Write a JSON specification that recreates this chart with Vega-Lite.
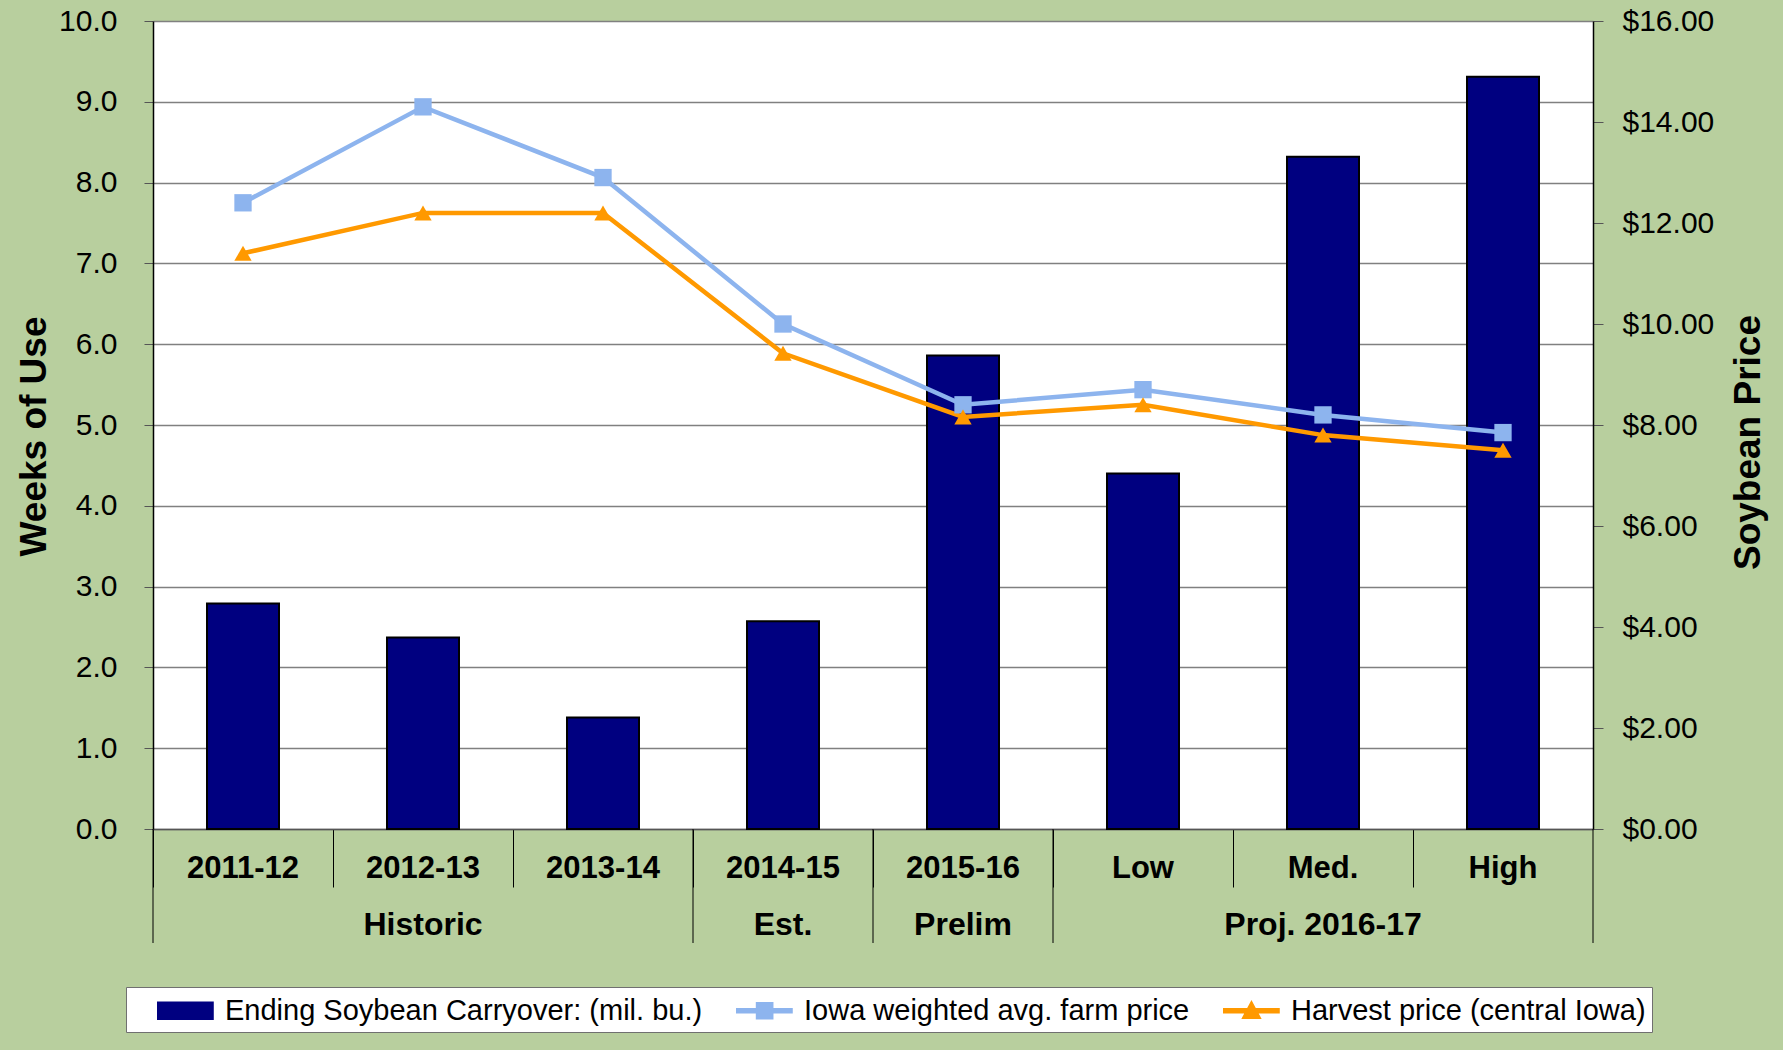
{
  "$schema": "https://vega.github.io/schema/vega-lite/v6.json",
  "width": 1440,
  "height": 808,
  "autosize": {"type": "none"},
  "padding": {"left": 153, "top": 21, "right": 190, "bottom": 221},
  "background": "#b8cf9e",
  "config": {
    "font": "Liberation Sans",
    "view": {"fill": "white", "stroke": null}
  },
  "datasets": {
    "bars": [
      {"cat": "2011-12", "weeks": 2.79, "series": "Ending Soybean Carryover: (mil. bu.)"},
      {"cat": "2012-13", "weeks": 2.37, "series": "Ending Soybean Carryover: (mil. bu.)"},
      {"cat": "2013-14", "weeks": 1.38, "series": "Ending Soybean Carryover: (mil. bu.)"},
      {"cat": "2014-15", "weeks": 2.57, "series": "Ending Soybean Carryover: (mil. bu.)"},
      {"cat": "2015-16", "weeks": 5.86, "series": "Ending Soybean Carryover: (mil. bu.)"},
      {"cat": "Low", "weeks": 4.40, "series": "Ending Soybean Carryover: (mil. bu.)"},
      {"cat": "Med.", "weeks": 8.32, "series": "Ending Soybean Carryover: (mil. bu.)"},
      {"cat": "High", "weeks": 9.31, "series": "Ending Soybean Carryover: (mil. bu.)"}
    ],
    "prices": [
      {"cat": "2011-12", "series": "Iowa weighted avg. farm price", "price": 12.40},
      {"cat": "2012-13", "series": "Iowa weighted avg. farm price", "price": 14.30},
      {"cat": "2013-14", "series": "Iowa weighted avg. farm price", "price": 12.90},
      {"cat": "2014-15", "series": "Iowa weighted avg. farm price", "price": 10.00},
      {"cat": "2015-16", "series": "Iowa weighted avg. farm price", "price": 8.40},
      {"cat": "Low", "series": "Iowa weighted avg. farm price", "price": 8.70},
      {"cat": "Med.", "series": "Iowa weighted avg. farm price", "price": 8.20},
      {"cat": "High", "series": "Iowa weighted avg. farm price", "price": 7.85},
      {"cat": "2011-12", "series": "Harvest price (central Iowa)", "price": 11.40},
      {"cat": "2012-13", "series": "Harvest price (central Iowa)", "price": 12.20},
      {"cat": "2013-14", "series": "Harvest price (central Iowa)", "price": 12.20},
      {"cat": "2014-15", "series": "Harvest price (central Iowa)", "price": 9.42},
      {"cat": "2015-16", "series": "Harvest price (central Iowa)", "price": 8.16},
      {"cat": "Low", "series": "Harvest price (central Iowa)", "price": 8.40},
      {"cat": "Med.", "series": "Harvest price (central Iowa)", "price": 7.80},
      {"cat": "High", "series": "Harvest price (central Iowa)", "price": 7.50}
    ],
    "groups": [
      {"cat": "2012-13", "group": "Historic"},
      {"cat": "2014-15", "group": "Est."},
      {"cat": "2015-16", "group": "Prelim"},
      {"cat": "Med.", "group": "Proj. 2016-17"}
    ],
    "edges": [
      {"cat": "2011-12", "side": "start"},
      {"cat": "2014-15", "side": "start"},
      {"cat": "2015-16", "side": "start"},
      {"cat": "Low", "side": "start"},
      {"cat": "High", "side": "end"}
    ]
  },
  "encoding": {
    "x": {
      "field": "cat",
      "type": "nominal",
      "sort": ["2011-12", "2012-13", "2013-14", "2014-15", "2015-16", "Low", "Med.", "High"],
      "scale": {"paddingInner": 0.6, "paddingOuter": 0.3},
      "axis": {
        "title": null,
        "labelAngle": 0,
        "labelFont": "Liberation Sans",
        "labelFontSize": 31,
        "labelFontWeight": "bold",
        "labelColor": "black",
        "labelPadding": -19,
        "labelBaseline": "middle",
        "labelOverlap": false,
        "bandPosition": -0.75,
        "tickSize": 58,
        "tickColor": "black",
        "tickWidth": 1,
        "domainColor": "#555555",
        "domainWidth": 1.5,
        "grid": false
      }
    }
  },
  "layer": [
    {
      "layer": [
        {
          "data": {"name": "bars"},
          "mark": {"type": "bar", "stroke": "black", "strokeWidth": 2},
          "encoding": {
            "y": {
              "field": "weeks",
              "type": "quantitative",
              "scale": {"domain": [0, 10], "nice": false},
              "axis": {
                "title": "Weeks of Use",
                "values": [0, 1, 2, 3, 4, 5, 6, 7, 8, 9, 10],
                "format": ".1f",
                "labelFontSize": 30,
                "labelColor": "black",
                "labelPadding": 27,
                "tickSize": 9,
                "tickColor": "#555555",
                "domainColor": "black",
                "domainWidth": 1.5,
                "gridColor": "#808080",
                "gridWidth": 1.5,
                "titleFontSize": 37,
                "titleFontWeight": "bold",
                "titleColor": "black",
                "titlePadding": 5,
                "titleY": 415
              }
            },
            "color": {
              "field": "series",
              "type": "nominal",
              "scale": {
                "domain": ["Ending Soybean Carryover: (mil. bu.)", "Iowa weighted avg. farm price", "Harvest price (central Iowa)"],
                "range": ["#000080", "#8DB4EE", "#FF9900"]
              },
              "legend": {
                "orient": "none",
                "legendX": -27,
                "legendY": 966,
                "direction": "horizontal",
                "title": null,
                "fillColor": "white",
                "strokeColor": "#707070",
                "padding": 6,
                "symbolSize": 1089,
                "labelFont": "Liberation Sans",
                "labelFontSize": 29,
                "labelColor": "black",
                "labelLimit": 800,
                "labelOffset": 58,
                "columnPadding": 8
              }
            }
          }
        },
        {
          "data": {"name": "groups"},
          "mark": {"type": "text", "fontSize": 32, "fontWeight": "bold", "font": "Liberation Sans", "color": "black", "baseline": "middle", "align": "center", "dy": 96},
          "encoding": {
            "y": {"datum": 0},
            "text": {"field": "group"}
          }
        },
        {
          "data": {"name": "edges"},
          "transform": [{"filter": "datum.side === 'start'"}],
          "mark": {"type": "rule", "color": "black", "strokeWidth": 1, "y2Offset": 114},
          "encoding": {
            "x": {"field": "cat", "type": "nominal", "bandPosition": -0.75, "title": null,
                  "sort": ["2011-12", "2012-13", "2013-14", "2014-15", "2015-16", "Low", "Med.", "High"]},
            "y": {"datum": 0},
            "y2": {"datum": 0}
          }
        },
        {
          "data": {"name": "edges"},
          "transform": [{"filter": "datum.side === 'end'"}],
          "mark": {"type": "rule", "color": "black", "strokeWidth": 1, "y2Offset": 114},
          "encoding": {
            "x": {"field": "cat", "type": "nominal", "bandPosition": 1.75, "title": null,
                  "sort": ["2011-12", "2012-13", "2013-14", "2014-15", "2015-16", "Low", "Med.", "High"]},
            "y": {"datum": 0},
            "y2": {"datum": 0}
          }
        }
      ]
    },
    {
      "data": {"name": "prices"},
      "encoding": {
        "y": {
          "field": "price",
          "type": "quantitative",
          "scale": {"domain": [0, 16], "nice": false},
          "axis": {
            "orient": "right",
            "title": "Soybean Price",
            "values": [0, 2, 4, 6, 8, 10, 12, 14, 16],
            "format": "$.2f",
            "labelFontSize": 30,
            "labelColor": "black",
            "labelPadding": 19,
            "tickSize": 10,
            "tickColor": "#555555",
            "domainColor": "black",
            "domainWidth": 1.5,
            "grid": false,
            "titleFontSize": 37,
            "titleFontWeight": "bold",
            "titleColor": "black",
            "titleAngle": 270,
            "titleBaseline": "top",
            "titlePadding": 17,
            "titleY": 421
          }
        },
        "color": {"field": "series", "type": "nominal"}
      },
      "layer": [
        {"mark": {"type": "line", "strokeWidth": 4.5}},
        {
          "transform": [{"filter": "datum.series === 'Iowa weighted avg. farm price'"}],
          "mark": {"type": "point", "filled": true, "opacity": 1, "size": 300, "shape": "square"}
        },
        {
          "transform": [{"filter": "datum.series === 'Harvest price (central Iowa)'"}],
          "mark": {"type": "point", "filled": true, "opacity": 1, "size": 300, "shape": "triangle-up"}
        },
        {
          "transform": [{"filter": "false"}],
          "mark": {"type": "point", "filled": true},
          "encoding": {
            "shape": {
              "field": "series",
              "type": "nominal",
              "scale": {
                "domain": ["Ending Soybean Carryover: (mil. bu.)", "Iowa weighted avg. farm price", "Harvest price (central Iowa)"],
                "range": [
                  "M0.5,-0.515H3.85V0.515H0.5Z",
                  "M0.5,-0.12H3.85V0.12H0.5Z M1.7,-0.49H2.68V0.49H1.7Z",
                  "M0.5,-0.12H3.85V0.12H0.5Z M2.18,-0.55L2.72,0.45H1.64Z"
                ]
              },
              "legend": {
                "orient": "none",
                "legendX": -27,
                "legendY": 966,
                "direction": "horizontal",
                "title": null,
                "fillColor": "white",
                "strokeColor": "#707070",
                "padding": 6,
                "symbolSize": 1089,
                "labelFont": "Liberation Sans",
                "labelFontSize": 29,
                "labelColor": "black",
                "labelLimit": 800,
                "labelOffset": 58,
                "columnPadding": 8
              }
            }
          }
        }
      ]
    }
  ],
  "resolve": {"scale": {"y": "independent"}}
}
